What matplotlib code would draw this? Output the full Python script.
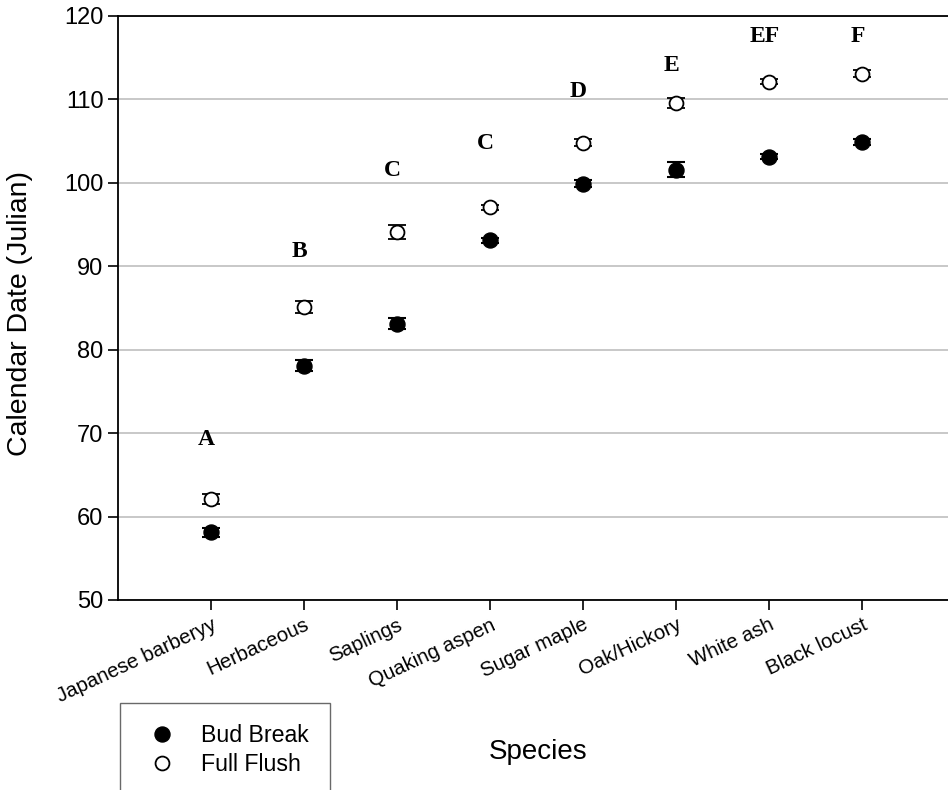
import matplotlib
matplotlib.use('Agg')
import matplotlib.pyplot as plt
import numpy as np

# Data
species = ['Japanese barberyy', 'Herbaceous', 'Saplings', 'Quaking aspen',
           'Sugar maple', 'Oak/Hickory', 'White ash', 'Black locust']
bud_break = [58.1, 78.1, 83.1, 93.1, 99.9, 101.6, 103.1, 104.9]
bud_break_err = [0.5, 0.65, 0.65, 0.3, 0.45, 0.85, 0.3, 0.4]
full_flush = [62.1, 85.1, 94.1, 97.1, 104.8, 109.6, 112.1, 113.1]
full_flush_err = [0.55, 0.75, 0.8, 0.3, 0.4, 0.6, 0.3, 0.4]
group_letters = ['A', 'B', 'C', 'C', 'D', 'E', 'EF', 'F']
letter_y = [69.2, 91.8, 101.5, 104.7, 111.0, 114.1, 117.5, 117.5]

plt.rcParams['font.family'] = ['Liberation Sans', 'DejaVu Sans']

fig = plt.figure(figsize=(9.48, 7.9), dpi=100)
ax = fig.add_axes([118 / 948, 1 - 600 / 790, 1 - 118 / 948, 584 / 790])

x = np.arange(1, len(species) + 1)

# gridlines
ax.set_axisbelow(True)
ax.yaxis.grid(True, color='#c4c4c4', linewidth=1.3)

ax.errorbar(x, bud_break, yerr=bud_break_err, fmt='o', color='black',
            markersize=10.8, ecolor='black', elinewidth=1.2, capsize=6.5,
            capthick=1.5, label='Bud Break', zorder=3)
ax.errorbar(x, full_flush, yerr=full_flush_err, fmt='o', color='black',
            markerfacecolor='white', markeredgecolor='black', markeredgewidth=1.3,
            markersize=10, ecolor='black', elinewidth=1.2, capsize=6.5,
            capthick=1.5, label='Full Flush', zorder=3)

for xi, yi, lt in zip(x, letter_y, group_letters):
    ax.text(xi - 0.05, yi, lt, ha='center', va='center', fontsize=17,
            fontweight='bold', family='Liberation Serif')

ax.set_xlim(0, 8.92)
ax.set_ylim(50, 120)
ax.set_yticks(np.arange(50, 121, 10))
ax.set_xticks(x)
ax.set_xticklabels(species, rotation=25, ha='right', rotation_mode='anchor',
                   fontsize=14.7)
ax.tick_params(axis='y', labelsize=17, length=7, width=1.2, direction='out',
               pad=3.5)
ax.tick_params(axis='x', length=7, width=1.2, direction='out', pad=4)
ax.set_ylabel('Calendar Date (Julian)', fontsize=20.5)
ax.yaxis.set_label_coords(-0.102, 0.49)

for s in ['left', 'bottom', 'top']:
    ax.spines[s].set_linewidth(1.3)
ax.spines['right'].set_visible(False)

fig.text(538 / 948, 1 - 752 / 790, 'Species', ha='center', va='center',
         fontsize=20)

handles, labels = ax.get_legend_handles_labels()
handles = [h[0] for h in handles]
leg = fig.legend(handles, labels, loc='upper left',
                 bbox_to_anchor=(120 / 948, 1 - 703 / 790), fontsize=16.7,
                 frameon=True, fancybox=False, edgecolor='#444444',
                 borderpad=0.9, handlelength=1.8, handletextpad=0.8,
                 labelspacing=0.25, markerscale=1.0, borderaxespad=0)
leg.get_frame().set_linewidth(1.0)

plt.savefig('out.png', dpi=100)
